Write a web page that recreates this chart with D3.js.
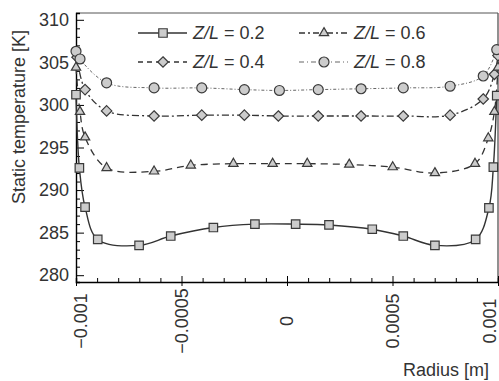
<!DOCTYPE html>
<html>
<head>
<meta charset="utf-8">
<script src="https://cdn.jsdelivr.net/npm/d3@7"></script>
<style>
  body { margin: 0; background: #fff; }
  svg { font-family: "Liberation Sans", Arial, sans-serif; }
</style>
</head>
<body>
<div class="visual"></div>
<script>
const width = 499;
const height = 381;

// radius in units of 1e-4 m, temperature in K
const r02 = [-10, -9.84, -9.57, -8.97, -7.01, -5.51, -3.49, -1.52, 0.41, 1.99, 4.04, 5.51, 7.01, 8.94, 9.57, 9.78, 9.94];
const t02 = [301.2, 292.6, 288.0, 284.2, 283.5, 284.6, 285.6, 286.0, 286.0, 285.9, 285.4, 284.6, 283.5, 284.2, 287.9, 292.7, 301.1];

const r04 = [-9.95, -9.57, -8.55, -6.30, -4.04, -2.02, -0.41, 1.48, 3.51, 5.51, 7.73, 9.30, 9.83, 10];
const t04 = [305.6, 301.8, 299.3, 298.7, 298.8, 298.8, 298.7, 298.7, 298.7, 298.7, 298.8, 300.7, 303.6, 305.8];

const r06 = [-10, -9.81, -9.57, -8.55, -6.30, -4.56, -2.54, -0.68, 0.96, 2.95, 5.01, 7.01, 8.91, 9.54, 9.83, 10];
const t06 = [304.4, 299.2, 296.2, 292.6, 292.2, 292.9, 293.1, 293.1, 293.1, 293.0, 292.7, 292.0, 293.1, 296.1, 299.2, 304.4];

const r08 = [-10, -9.81, -8.55, -6.30, -4.04, -2.02, -0.36, 1.48, 3.51, 5.51, 7.73, 9.30, 9.94];
const t08 = [306.3, 305.4, 302.6, 302.0, 302.0, 301.8, 301.7, 301.8, 301.9, 302.0, 302.2, 303.4, 306.5];

const seriesNames = ["Z/L = 0.2", "Z/L = 0.4", "Z/L = 0.6", "Z/L = 0.8"];
const xTicks = [-0.001, -0.0005, 0, 0.0005, 0.001];
const xTickLabels = ["\u22120.001", "\u22120.0005", "0", "0.0005", "0.001"];
const yTicks = [280, 285, 290, 295, 300, 305, 310];

const series = [
  { r: r02, t: t02, symbol: d3.symbolSquare, size: 72, dash: null, legendDash: null, color: "#333", sw: 1.4 },
  { r: r04, t: t04, symbol: d3.symbolDiamond2, size: 70, dash: "7,3,2,3", legendDash: "5,4", color: "#333", sw: 1.3 },
  { r: r06, t: t06, symbol: d3.symbolTriangle2, size: 62, dash: "7,5", legendDash: "6,3,2,3", color: "#333", sw: 1.3 },
  { r: r08, t: t08, symbol: d3.symbolCircle, size: 78, dash: "3,2,1,2", legendDash: "5,3,1,3", color: "#666", sw: 1 }
];

const svg = d3
  .select(".visual")
  .append("svg")
  .attr("width", width)
  .attr("height", height);

const x = d3.scaleLinear().domain([-0.001, 0.001]).range([76, 498]);
const y = d3.scaleLinear().domain([279.2, 310.8]).range([282, 13]);

// frame (top & right)
svg.append("line").attr("x1", 76).attr("x2", 498).attr("y1", 13).attr("y2", 13)
  .attr("stroke", "#555").attr("stroke-width", 1);
svg.append("line").attr("x1", 498).attr("x2", 498).attr("y1", 13).attr("y2", 282)
  .attr("stroke", "#555").attr("stroke-width", 1.3);

// y axis with inward ticks
const yAxis = svg.append("g").attr("transform", "translate(76,0)");
yAxis.call(
  d3.axisRight(y).tickValues(d3.range(280, 311, 1)).tickSize(4).tickFormat("")
);
yAxis.selectAll(".tick line").filter((d) => d % 5 === 0).attr("x2", 8);
yAxis.select(".domain").attr("stroke-width", 1.4);
svg.selectAll(".ylab")
  .data(yTicks)
  .enter()
  .append("text")
  .attr("x", 69)
  .attr("y", (d) => y(d))
  .attr("dy", "0.35em")
  .attr("text-anchor", "end")
  .attr("font-size", 18)
  .attr("fill", "#333")
  .text((d) => d);

// x axis with inward ticks
const xAxis = svg.append("g").attr("transform", "translate(0,282)");
xAxis.call(
  d3.axisTop(x).tickValues(d3.range(-10, 11, 1).map((d) => d * 1e-4)).tickSize(4).tickFormat("")
);
xAxis.selectAll(".tick line")
  .filter((d) => Math.abs(Math.round(d * 1e4)) % 5 === 0)
  .attr("y1", 4)
  .attr("y2", -6);
xAxis.select(".domain").attr("stroke-width", 1.4);
svg.selectAll(".xlab")
  .data(xTicks)
  .enter()
  .append("text")
  .attr("transform", (d) => `translate(${Math.max(81, Math.min(490, x(d)))},321) rotate(-90)`)
  .attr("text-anchor", "middle")
  .attr("dominant-baseline", "central")
  .attr("font-size", 18)
  .attr("fill", "#333")
  .text((d, i) => xTickLabels[i]);

// axis titles
svg.append("text")
  .attr("transform", "translate(19,117) rotate(-90)")
  .attr("text-anchor", "middle")
  .attr("dominant-baseline", "central")
  .attr("font-size", 18)
  .attr("fill", "#333")
  .text("Static temperature [K]");
svg.append("text")
  .attr("x", 489)
  .attr("y", 376)
  .attr("text-anchor", "end")
  .attr("font-size", 18)
  .attr("fill", "#333")
  .text("Radius [m]");

// lines and markers
const line = d3.line().curve(d3.curveCatmullRom.alpha(0.5));
series.forEach((s) => {
  const pts = s.r.map((r, i) => [x(r * 1e-4), y(s.t[i])]);
  svg.append("path")
    .attr("d", line(pts))
    .attr("fill", "none")
    .attr("stroke", s.color)
    .attr("stroke-width", s.sw)
    .attr("stroke-dasharray", s.dash);
});
series.forEach((s) => {
  svg.append("g")
    .selectAll("path")
    .data(s.r.map((r, i) => [x(r * 1e-4), y(s.t[i])]))
    .enter()
    .append("path")
    .attr("d", d3.symbol().type(s.symbol).size(s.size))
    .attr("transform", (d) => `translate(${d[0]},${d[1]})`)
    .attr("fill", "#cccccc")
    .attr("stroke", "#3a3a3a")
    .attr("stroke-width", 1.2);
});

// legend
const legendPos = [[138, 33], [138, 62], [299, 33], [299, 62]];
series.forEach((s, i) => {
  const [lx, ly] = legendPos[i];
  const g = svg.append("g").attr("transform", `translate(${lx},${ly})`);
  g.append("line").attr("x1", 0).attr("x2", 49).attr("y1", 0).attr("y2", 0)
    .attr("stroke", s.color).attr("stroke-width", s.sw + 0.2)
    .attr("stroke-dasharray", s.legendDash);
  g.append("path")
    .attr("d", d3.symbol().type(s.symbol).size(s.size))
    .attr("transform", "translate(25,0)")
    .attr("fill", "#cccccc")
    .attr("stroke", "#3a3a3a")
    .attr("stroke-width", 1.2);
  const parts = seriesNames[i].split(" = ");
  const txt = g.append("text")
    .attr("x", 55)
    .attr("y", 0)
    .attr("dy", "0.35em")
    .attr("font-size", 18)
    .attr("fill", "#333");
  txt.append("tspan").attr("font-style", "italic").text(parts[0]);
  txt.append("tspan").text(" = " + parts[1]);
});
</script>
</body>
</html>
